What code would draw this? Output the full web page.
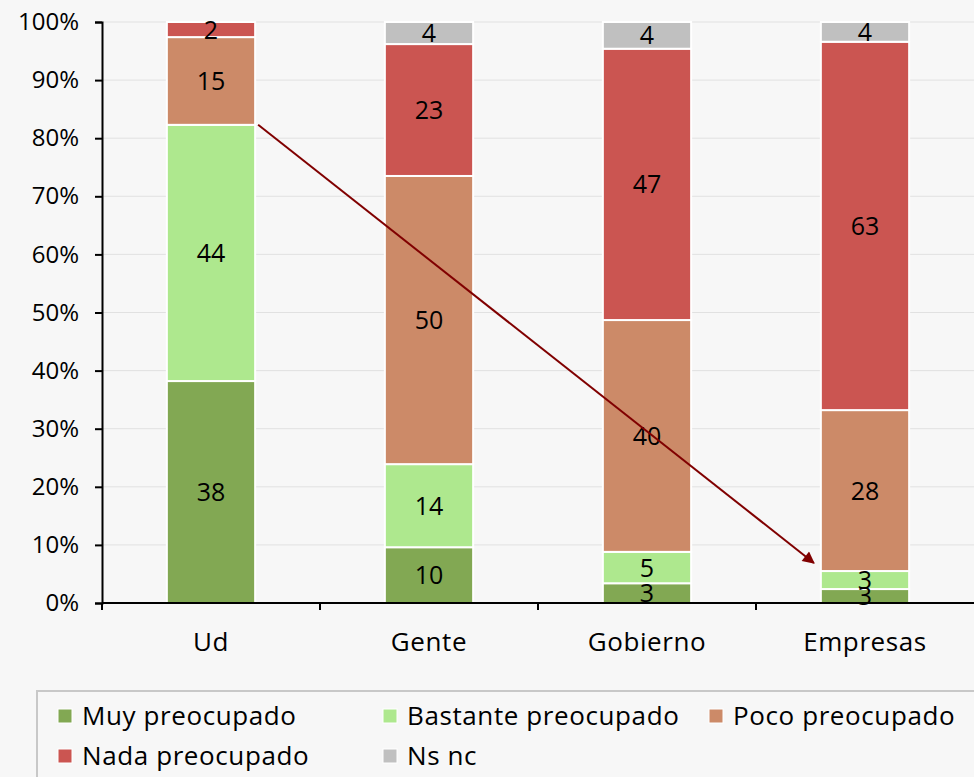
<!DOCTYPE html>
<html>
  <head>
    <meta charset="UTF-8" />
    <style>
      body,
      html {
        margin: 0;
        padding: 0;
        overflow: hidden;
        background: #f7f7f7;
      }
      svg text {
        font-family: "Open Sans", sans-serif;
        fill: #000;
      }
    </style>
  </head>
  <body>
    <svg id="chart"></svg>
    <script src="https://d3js.org/d3.v7.min.js"></script>
    <script>
      // data (shares in %, labels are the rounded values)
      const categories = ["Ud", "Gente", "Gobierno", "Empresas"];
      const seriesNames = [
        "Muy preocupado",
        "Bastante preocupado",
        "Poco preocupado",
        "Nada preocupado",
        "Ns nc",
      ];
      const colors = ["#82a853", "#aee88e", "#cc8a68", "#cb5551", "#c0c0c0"];
      const muy = [38.2, 9.6, 3.4, 2.4];
      const bastante = [44.1, 14.3, 5.4, 3.1];
      const poco = [15.1, 49.6, 39.9, 27.7];
      const nada = [2.6, 22.7, 46.7, 63.4];
      const nsnc = [0, 3.8, 4.6, 3.4];
      const muyLabels = [38, 10, 3, 3];
      const bastanteLabels = [44, 14, 5, 3];
      const pocoLabels = [15, 50, 40, 28];
      const nadaLabels = [2, 23, 47, 63];
      const nsncLabels = [null, 4, 4, 4];
      const yTicks = [0, 10, 20, 30, 40, 50, 60, 70, 80, 90, 100];
      // arrow from Ud (top of Bastante) down to Empresas
      const arrowFrom = { cat: "Ud", value: 82.3 };
      const arrowTo = { cat: "Empresas", value: 6.9 };

      const width = 974;
      const height = 777;
      const margin = { top: 22, left: 102, right: 0, bottom: 174 };
      const plotBottom = height - margin.bottom;

      const svg = d3
        .select("#chart")
        .attr("width", width)
        .attr("height", height);

      svg
        .append("rect")
        .attr("width", width)
        .attr("height", height)
        .attr("fill", "#f7f7f7");

      const x = d3
        .scaleBand()
        .domain(categories)
        .range([margin.left, width - margin.right]);
      const barW = x.bandwidth() * 0.405;
      const barX = (c) => x(c) + (x.bandwidth() - barW) / 2;

      const y = d3
        .scaleLinear()
        .domain([0, 100])
        .range([plotBottom, margin.top]);

      // gridlines
      svg
        .append("g")
        .selectAll("line")
        .data(yTicks.slice(1))
        .join("line")
        .attr("x1", margin.left)
        .attr("x2", width)
        .attr("y1", (d) => y(d))
        .attr("y2", (d) => y(d))
        .attr("stroke", "#e1e1e1")
        .attr("stroke-width", 1);

      const values = [muy, bastante, poco, nada, nsnc];
      const labels = [muyLabels, bastanteLabels, pocoLabels, nadaLabels, nsncLabels];

      const rows = categories.map((c, i) => {
        const r = { cat: c };
        seriesNames.forEach((s, j) => (r[s] = values[j][i]));
        return r;
      });
      const stacked = d3.stack().keys(seriesNames)(rows);

      const layers = svg
        .append("g")
        .selectAll("g")
        .data(stacked)
        .join("g")
        .attr("fill", (d, i) => colors[i]);

      layers
        .selectAll("rect")
        .data((d) => d.filter((p) => p[1] - p[0] > 0))
        .join("rect")
        .attr("x", (d) => barX(d.data.cat))
        .attr("width", barW)
        .attr("y", (d) => y(d[1]))
        .attr("height", (d) => y(d[0]) - y(d[1]))
        .attr("stroke", "#fff")
        .attr("stroke-width", 2);

      // axes
      const yAxis = svg
        .append("g")
        .attr("transform", `translate(${margin.left},0)`)
        .call(
          d3
            .axisLeft(y)
            .tickValues(yTicks)
            .tickFormat((d) => d + "%")
            .tickSize(7)
            .tickPadding(16)
        );
      yAxis.select(".domain").attr("stroke", "#000").attr("stroke-width", 2);
      yAxis.selectAll(".tick line").attr("stroke", "#000").attr("stroke-width", 2);
      yAxis
        .selectAll("text")
        .attr("font-size", 24)
        .attr("font-family", "Open Sans, sans-serif");

      const xAxis = svg.append("g").attr("transform", `translate(0,${plotBottom})`);
      xAxis
        .append("line")
        .attr("x1", margin.left)
        .attr("x2", width)
        .attr("stroke", "#000")
        .attr("stroke-width", 2);
      xAxis
        .selectAll(".tk")
        .data(categories)
        .join("line")
        .attr("class", "tk")
        .attr("x1", (d) => x(d))
        .attr("x2", (d) => x(d))
        .attr("y1", 0)
        .attr("y2", 7)
        .attr("stroke", "#000")
        .attr("stroke-width", 2);
      xAxis
        .selectAll("text")
        .data(categories)
        .join("text")
        .attr("x", (d) => x(d) + x.bandwidth() / 2)
        .attr("y", 48)
        .attr("text-anchor", "middle")
        .attr("font-size", 26)
        .attr("letter-spacing", 0.6)
        .text((d) => d);

      // value labels
      const labelG = svg.append("g");
      stacked.forEach((layer, j) => {
        layer.forEach((p, i) => {
          if (labels[j][i] == null) return;
          labelG
            .append("text")
            .attr("x", barX(p.data.cat) + barW / 2)
            .attr("y", y((p[0] + p[1]) / 2))
            .attr("dy", "0.36em")
            .attr("text-anchor", "middle")
            .attr("font-size", 25)
            .text(labels[j][i]);
        });
      });

      // arrow
      svg
        .append("defs")
        .append("marker")
        .attr("id", "head")
        .attr("viewBox", "0 0 10 10")
        .attr("refX", 9)
        .attr("refY", 5)
        .attr("markerWidth", 16)
        .attr("markerHeight", 12)
        .attr("markerUnits", "userSpaceOnUse")
        .attr("orient", "auto")
        .append("path")
        .attr("d", "M0,0 L10,5 L0,10 Z")
        .attr("fill", "#800000");

      svg
        .append("line")
        .attr("x1", barX(arrowFrom.cat) + barW + 3)
        .attr("y1", y(arrowFrom.value))
        .attr("x2", barX(arrowTo.cat) - 7)
        .attr("y2", y(arrowTo.value))
        .attr("stroke", "#800000")
        .attr("stroke-width", 2)
        .attr("marker-end", "url(#head)");

      // legend
      const legend = svg.append("g");
      legend
        .append("rect")
        .attr("x", 37)
        .attr("y", 691)
        .attr("width", 1000)
        .attr("height", 200)
        .attr("fill", "none")
        .attr("stroke", "#c8c8c8")
        .attr("stroke-width", 2);

      const legendCols = [58, 383, 709];
      const items = legend
        .selectAll(".item")
        .data(seriesNames)
        .join("g")
        .attr("class", "item")
        .attr(
          "transform",
          (d, i) => `translate(${legendCols[i % 3]},${716 + Math.floor(i / 3) * 40})`
        );
      items
        .append("rect")
        .attr("x", 0)
        .attr("y", -7)
        .attr("width", 14)
        .attr("height", 14)
        .attr("fill", (d, i) => colors[i])
        .attr("stroke", "#fff")
        .attr("stroke-width", 1);
      items
        .append("text")
        .attr("x", 24)
        .attr("dy", "0.36em")
        .attr("font-size", 26)
        .attr("letter-spacing", 0.6)
        .text((d) => d);
    </script>
  </body>
</html>
